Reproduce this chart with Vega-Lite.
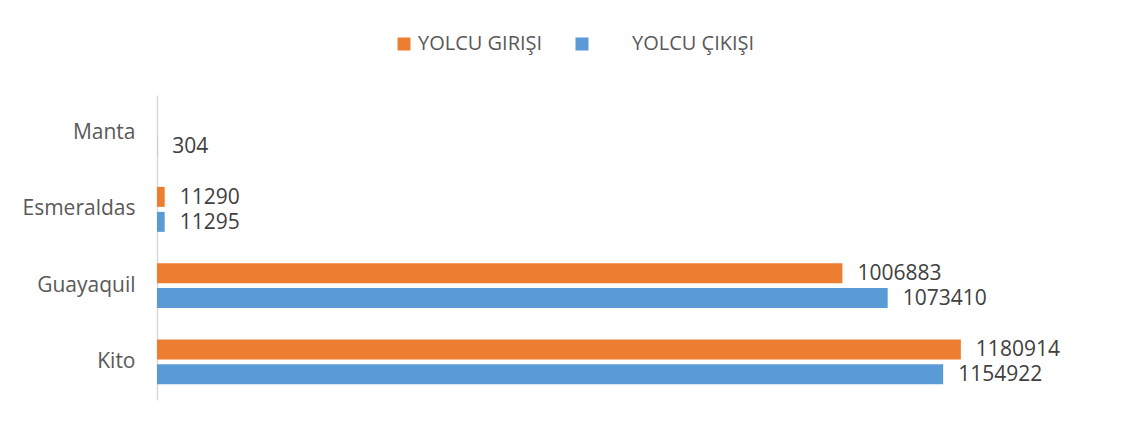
{
  "$schema": "https://vega.github.io/schema/vega-lite/v6.json",
  "width": 953,
  "height": 305,
  "autosize": {"type": "none"},
  "padding": {"left": 157, "top": 95, "right": 22, "bottom": 25},
  "background": "white",
  "config": {
    "view": {"stroke": null},
    "font": "Open Sans"
  },
  "data": {
    "values": [
      {"city": "Manta", "series": "YOLCU ÇIKIŞI", "value": 304},
      {"city": "Esmeraldas", "series": "YOLCU GIRIŞI", "value": 11290},
      {"city": "Esmeraldas", "series": "YOLCU ÇIKIŞI", "value": 11295},
      {"city": "Guayaquil", "series": "YOLCU GIRIŞI", "value": 1006883},
      {"city": "Guayaquil", "series": "YOLCU ÇIKIŞI", "value": 1073410},
      {"city": "Kito", "series": "YOLCU GIRIŞI", "value": 1180914},
      {"city": "Kito", "series": "YOLCU ÇIKIŞI", "value": 1154922}
    ]
  },
  "encoding": {
    "y": {
      "field": "city",
      "type": "nominal",
      "sort": ["Manta", "Esmeraldas", "Guayaquil", "Kito"],
      "scale": {"paddingInner": 0.41, "paddingOuter": 0.205},
      "axis": {
        "title": null,
        "ticks": false,
        "domainColor": "#d9d9d9",
        "domainWidth": 1.5,
        "labelFontSize": 21,
        "labelColor": "#595959",
        "labelPadding": 22,
        "labelFont": "Open Sans"
      }
    },
    "yOffset": {
      "field": "series",
      "type": "nominal",
      "sort": ["YOLCU GIRIŞI", "YOLCU ÇIKIŞI"],
      "scale": {"domain": ["YOLCU GIRIŞI", "YOLCU ÇIKIŞI"], "paddingInner": 0.2, "paddingOuter": 0}
    },
    "x": {
      "field": "value",
      "type": "quantitative",
      "scale": {"domain": [0, 1400000], "nice": false},
      "axis": null
    }
  },
  "layer": [
    {
      "mark": {"type": "bar"},
      "encoding": {
        "color": {
          "field": "series",
          "type": "nominal",
          "scale": {"domain": ["YOLCU GIRIŞI", "YOLCU ÇIKIŞI"], "range": ["#ED7D31", "#5B9BD5"]},
          "legend": {
            "title": null,
            "orient": "none",
            "direction": "horizontal",
            "legendX": 237,
            "legendY": -61,
            "padding": 0,
            "symbolType": "square",
            "symbolSize": 169,
            "symbolStrokeWidth": 0,
            "symbolOpacity": 1,
            "labelFontSize": 20,
            "labelColor": "#595959",
            "labelFont": "Open Sans",
            "labelOffset": 4,
            "columnPadding": 29,
            "encode": {
              "labels": {
                "update": {
                  "dx": {"signal": "datum.value == 'YOLCU ÇIKIŞI' ? 36 : 0"}
                }
              }
            }
          }
        }
      }
    },
    {
      "mark": {"type": "text", "align": "left", "baseline": "middle", "dx": 15, "dy": 1, "fontSize": 21, "color": "#404040", "font": "Open Sans"},
      "encoding": {
        "text": {"field": "value", "type": "quantitative", "format": "d"}
      }
    }
  ]
}
